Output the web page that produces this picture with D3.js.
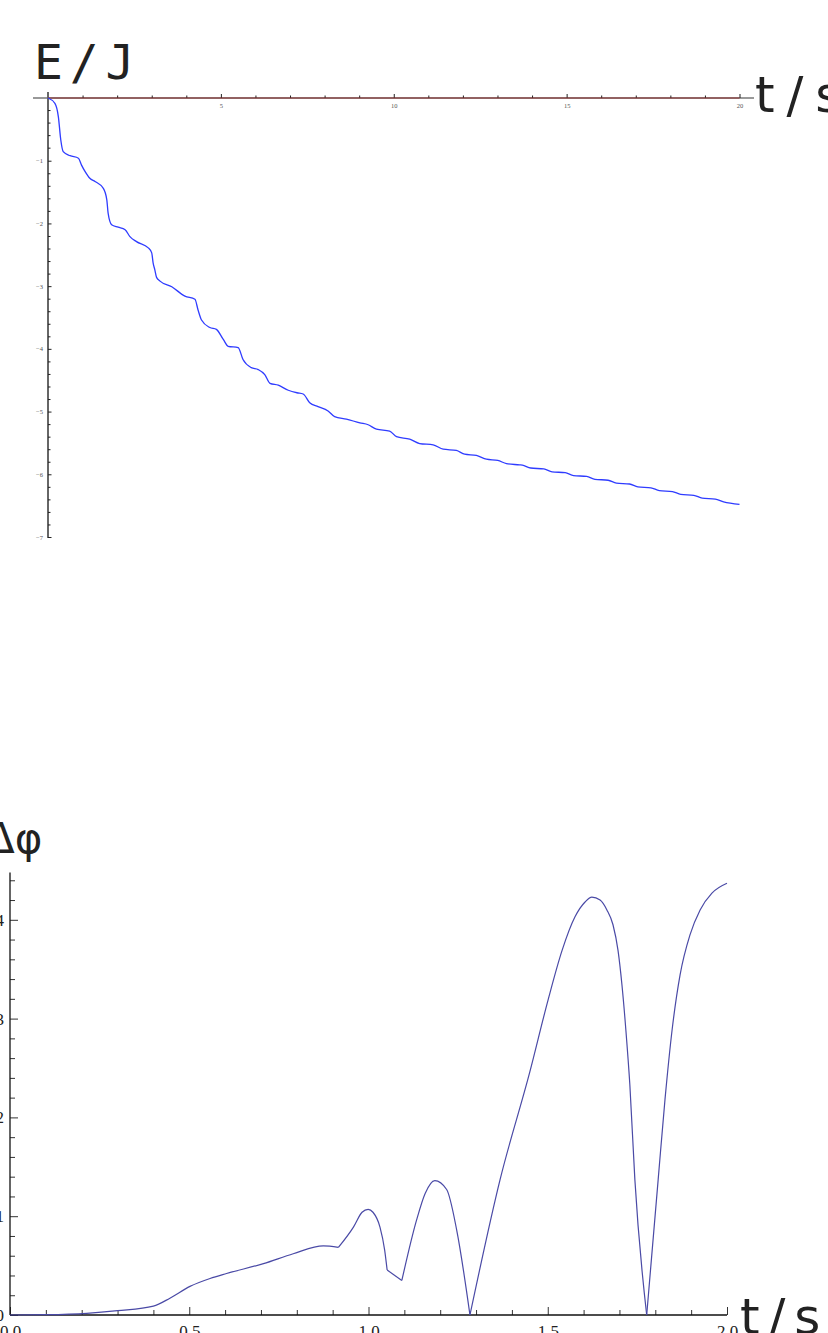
<!DOCTYPE html>
<html>
<head>
<meta charset="utf-8">
<script src="https://cdn.jsdelivr.net/npm/d3@7"></script>
<style>
  html, body { margin: 0; padding: 0; background: #fff; }
  svg { display: block; }
</style>
</head>
<body>
<script>
// Energy of the damped system over 20 s
const energyT = [0, 0.2, 0.3, 0.37, 0.44, 0.64, 0.88, 0.97, 1.07, 1.21, 1.36, 1.6, 1.7, 1.74, 1.84,
  2.03, 2.23, 2.37, 2.56, 2.9, 3.0, 3.04, 3.09, 3.14, 3.24, 3.58, 3.96, 4.25, 4.34, 4.44, 4.68, 4.87,
  5.07, 5.21, 5.5, 5.64, 5.88, 6.08, 6.27, 6.42, 6.66, 6.95, 7.2, 7.38, 7.57, 7.81, 8.1, 8.29, 8.63,
  9.02, 9.26, 9.5, 9.88, 10.08, 10.46, 10.75, 11.14, 11.43, 11.81, 12.05, 12.39, 12.68, 13.01, 13.26,
  13.64, 13.72, 13.96, 14.34, 14.58, 14.96, 15.2, 15.58, 15.82, 16.2, 16.44, 16.82, 17.06, 17.44,
  17.68, 18.06, 18.3, 18.68, 18.92, 19.3, 19.54, 20.0];
const energyE = [0, -0.085, -0.3, -0.67, -0.855, -0.92, -0.96, -1.07, -1.17, -1.28, -1.33, -1.44, -1.62,
  -1.84, -2.02, -2.06, -2.1, -2.21, -2.29, -2.39, -2.47, -2.63, -2.74, -2.86, -2.92, -3.01, -3.16, -3.21,
  -3.38, -3.54, -3.66, -3.69, -3.85, -3.96, -3.98, -4.17, -4.3, -4.33, -4.41, -4.55, -4.58, -4.66, -4.7,
  -4.72, -4.86, -4.92, -4.99, -5.08, -5.12, -5.18, -5.21, -5.28, -5.31, -5.4, -5.44, -5.51, -5.53, -5.6,
  -5.62, -5.68, -5.7, -5.76, -5.78, -5.83, -5.85, -5.855, -5.9, -5.915, -5.96, -5.975, -6.02, -6.035,
  -6.08, -6.095, -6.14, -6.155, -6.2, -6.215, -6.26, -6.275, -6.32, -6.335, -6.38, -6.395, -6.44, -6.48];

// Phase difference over the first 2 s
const phaseT = [0, 0.1, 0.214, 0.3, 0.4, 0.446, 0.502, 0.558, 0.604, 0.707, 0.79, 0.874, 0.916, 0.958,
  0.982, 0.999, 1.0125, 1.032, 1.045, 1.052, 1.093, 1.134, 1.158, 1.185, 1.218, 1.246, 1.283, 1.367,
  1.45, 1.501, 1.54, 1.576, 1.604, 1.623, 1.646, 1.665, 1.682, 1.696, 1.707, 1.718, 1.729, 1.743, 1.776,
  1.808, 1.827, 1.847, 1.869, 1.897, 1.925, 1.958, 2.0];
const phaseV = [0, 0.003, 0.017, 0.044, 0.09, 0.17, 0.29, 0.37, 0.42, 0.52, 0.62, 0.7, 0.685, 0.89,
  1.04, 1.07, 1.04, 0.89, 0.66, 0.455, 0.35, 0.96, 1.23, 1.36, 1.27, 0.86, 0.0, 1.37, 2.46, 3.19, 3.69,
  4.03, 4.18, 4.23, 4.2, 4.1, 3.95, 3.69, 3.34, 2.88, 2.33, 1.37, 0.0, 1.37, 2.18, 2.89, 3.44, 3.85, 4.1,
  4.27, 4.37];
// Kinks where the curve is not smooth
const phaseKinks = [0.916, 1.052, 1.093, 1.283, 1.776];

const energyTicksMajor = [5, 10, 15, 20];
const energyTicksY = [-1, -2, -3, -4, -5, -6, -7];
const phaseTicksX = [0.0, 0.5, 1.0, 1.5, 2.0];
const phaseTicksY = [0, 1, 2, 3, 4];

const W = 828, H = 1333;
const svg = d3.select("body").append("svg").attr("width", W).attr("height", H);

/* ---------- Top chart: E / J ---------- */
const xE = d3.scaleLinear().domain([0, 20]).range([48, 739.5]);
const yE = d3.scaleLinear().domain([0, -7]).range([98, 537]);
const gTop = svg.append("g");

// axis lines
gTop.append("line").attr("x1", 33).attr("x2", 754).attr("y1", yE(0)).attr("y2", yE(0))
  .attr("stroke", "#777").attr("stroke-width", 1.6);
gTop.append("line").attr("x1", xE(0)).attr("x2", xE(0)).attr("y1", 92).attr("y2", yE(-7) + 1)
  .attr("stroke", "#666").attr("stroke-width", 2);

// x ticks (upward), labels below
const axE = d3.axisBottom(xE).tickValues(d3.range(1, 21)).tickSizeInner(-3).tickSizeOuter(0)
  .tickFormat(d => energyTicksMajor.includes(d) ? d : "").tickPadding(5);
const gx = gTop.append("g").attr("transform", `translate(0,${yE(0)})`).call(axE);
gx.select(".domain").remove();
gx.selectAll(".tick line").attr("stroke", "#222").attr("y2", d => energyTicksMajor.includes(d) ? -4 : -2.5);
gx.selectAll(".tick text").attr("font-family", "Liberation Serif, serif").attr("font-size", 6.5).attr("fill", "#555");

// y ticks (rightward), labels left
const ayE = d3.axisLeft(yE).tickValues(d3.range(-1, -7.01, -0.2).map(v => +v.toFixed(1)))
  .tickSizeInner(-2.5).tickSizeOuter(0).tickPadding(5)
  .tickFormat(d => energyTicksY.includes(d) ? "\u2212" + Math.abs(d) : "");
const gy = gTop.append("g").attr("transform", `translate(${xE(0)},0)`).call(ayE);
gy.select(".domain").remove();
gy.selectAll(".tick line").attr("stroke", "#222").attr("x2", d => energyTicksY.includes(d) ? 3.5 : 2.5);
gy.selectAll(".tick text").attr("font-family", "Liberation Serif, serif").attr("font-size", 6.5).attr("fill", "#555");
// minor ticks between 0 and -1
[-0.2, -0.4, -0.6, -0.8].forEach(v => {
  gTop.append("line").attr("x1", xE(0)).attr("x2", xE(0) + 2.5).attr("y1", yE(v)).attr("y2", yE(v)).attr("stroke", "#222");
});

// reference level E = 0
gTop.append("line").attr("x1", xE(0)).attr("x2", xE(20)).attr("y1", yE(0)).attr("y2", yE(0))
  .attr("stroke", "#8b2a2a").attr("stroke-width", 1);

// energy curve
const energyData = energyT.map((t, i) => [t, energyE[i]]);
gTop.append("path").datum(energyData)
  .attr("d", d3.line().x(d => xE(d[0])).y(d => yE(d[1])).curve(d3.curveMonotoneX))
  .attr("fill", "none").attr("stroke", "#2f3cff").attr("stroke-width", 1.3);

// axis titles
gTop.append("text").attr("x", 34).attr("y", 79).text("E / J")
  .attr("font-family", "DejaVu Sans Mono, monospace").attr("font-size", 48)
  .attr("word-spacing", -22).attr("fill", "#222");
gTop.append("text").attr("x", 755).attr("y", 112).text("t / s")
  .attr("font-family", "DejaVu Sans, sans-serif").attr("font-size", 50)
  .attr("word-spacing", -4).attr("fill", "#222");

/* ---------- Bottom chart: Δφ ---------- */
const xP = d3.scaleLinear().domain([0, 2]).range([10, 727]);
const yP = d3.scaleLinear().domain([0, 4.5]).range([1315, 870.4]);
const gBot = svg.append("g");

const axP = d3.axisBottom(xP).tickValues(d3.range(0, 2.001, 0.1).map(v => +v.toFixed(1)))
  .tickSizeInner(-5).tickSizeOuter(0).tickPadding(10)
  .tickFormat(d => phaseTicksX.some(m => Math.abs(m - d) < 1e-9) ? d3.format(".1f")(d) : "");
const gpx = gBot.append("g").attr("transform", `translate(0,${yP(0)})`).call(axP);
gpx.select(".domain").remove();
gpx.selectAll(".tick line").attr("stroke", "#333")
  .attr("y2", d => phaseTicksX.some(m => Math.abs(m - d) < 1e-9) ? -8 : -5);
gpx.selectAll(".tick text").attr("font-family", "Liberation Serif, Times New Roman, serif")
  .attr("font-size", 17).attr("fill", "#222");

const ayP = d3.axisLeft(yP).tickValues(d3.range(0, 4.41, 0.2).map(v => +v.toFixed(1)))
  .tickSizeInner(-5).tickSizeOuter(0).tickPadding(6)
  .tickFormat(d => phaseTicksY.includes(d) ? d : "");
const gpy = gBot.append("g").attr("transform", `translate(${xP(0)},0)`).call(ayP);
gpy.select(".domain").remove();
gpy.selectAll(".tick line").attr("stroke", "#333")
  .attr("x2", d => phaseTicksY.includes(d) ? 8 : 5);
gpy.selectAll(".tick text").attr("font-family", "Liberation Serif, Times New Roman, serif")
  .attr("font-size", 17).attr("fill", "#222");

gBot.append("line").attr("x1", xP(0)).attr("x2", xP(2)).attr("y1", yP(0)).attr("y2", yP(0))
  .attr("stroke", "#111").attr("stroke-width", 1.3);
gBot.append("line").attr("x1", xP(0)).attr("x2", xP(0)).attr("y1", yP(4.5) + 2).attr("y2", yP(0))
  .attr("stroke", "#111").attr("stroke-width", 1.3);

// phase curve, drawn as smooth pieces joined at the kinks
const phaseData = phaseT.map((t, i) => [t, phaseV[i]]);
const pieces = [];
let cur = [];
phaseData.forEach(p => {
  cur.push(p);
  if (phaseKinks.some(k => Math.abs(k - p[0]) < 1e-9)) { pieces.push(cur); cur = [p]; }
});
if (cur.length > 1) pieces.push(cur);
const lineP = d3.line().x(d => xP(d[0])).y(d => yP(d[1])).curve(d3.curveMonotoneX);
gBot.selectAll("path.phase").data(pieces).join("path").attr("class", "phase")
  .attr("d", lineP).attr("fill", "none").attr("stroke", "#4a4aa6").attr("stroke-width", 1.2);

gBot.append("text").attr("x", -14).attr("y", 853).text("\u0394\u03c6")
  .attr("font-family", "DejaVu Sans, sans-serif").attr("font-size", 42).attr("fill", "#222");
gBot.append("text").attr("x", 740).attr("y", 1334).text("t / s")
  .attr("font-family", "DejaVu Sans, sans-serif").attr("font-size", 50)
  .attr("word-spacing", -7).attr("fill", "#222");
</script>
</body>
</html>
